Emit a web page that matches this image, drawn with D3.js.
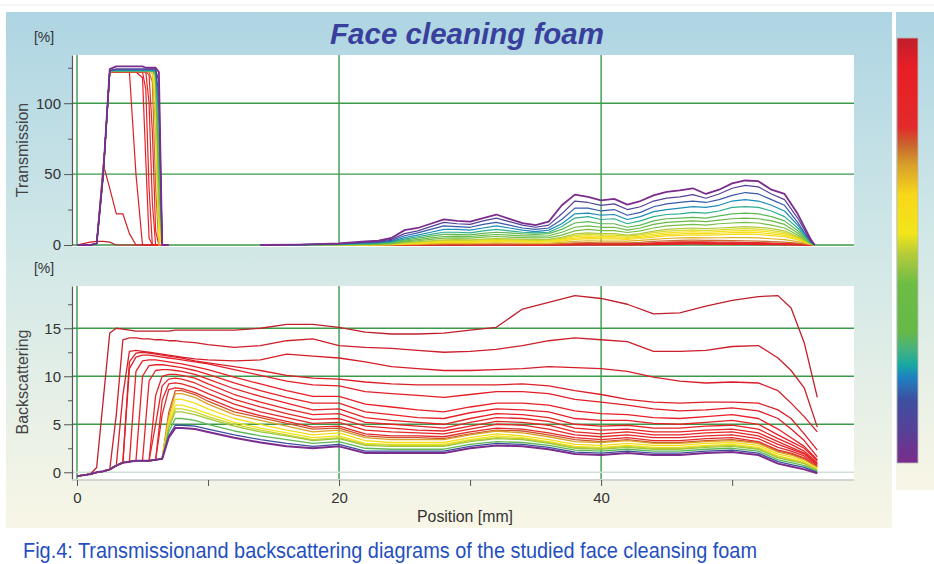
<!DOCTYPE html>
<html lang="en">
  <head>
    <meta charset="UTF-8" />
    <title>Face cleaning foam</title>
    <style>
      body {
        margin: 0;
        background: #fff;
      }
      svg text {
        font-family: 'Liberation Sans', Arial, sans-serif;
      }
    </style>
  </head>
  <body>
    <div id="main"></div>
    <script src="https://cdn.jsdelivr.net/npm/d3@7"></script>

    <script>
      // ---- transmission: positions (mm) ----
      const trPosL = [0, 1, 1.5, 2, 2.5, 3, 3.5, 4, 4.5, 5, 5.25, 5.5, 5.75, 6, 6.25, 6.5, 7]
      const trPosR = [14, 17, 20, 22, 23, 24, 25, 26, 27, 28, 29, 30, 31, 32, 33, 34, 35, 36, 37, 38, 39, 40, 41, 42, 43, 44, 45, 46, 47, 48, 49, 50, 51, 52, 53, 54, 55, 55.5, 56, 56.3]

      // scan time (0 = first scan, 1 = last scan)
      const trScanT = [0, 0.08, 0.16, 0.21, 0.25, 0.3, 0.37, 0.43, 0.49, 0.52, 0.56, 0.59, 0.62, 0.68, 0.74, 0.8, 0.85, 0.88, 0.91, 0.94, 0.97, 1]

      // transmission [%], left peak
      const trL00 = [0, 0, 1, 50, 124, 126, 126, 126, 126, 126, 125, 125, 125, 125, 122, 0, 0]
      const trL01 = [0, 0, 1, 50, 123, 124, 124, 124, 124, 124, 124, 124, 124, 124, 115, 0, 0]
      const trL02 = [0, 0, 1, 50, 123, 124, 124, 124, 124, 124, 124, 124, 124, 124, 105, 0, 0]
      const trL03 = [0, 0, 1, 50, 123, 123, 123, 123, 123, 123, 123, 123, 123, 123, 95, 0, 0]
      const trL04 = [0, 0, 1, 50, 123, 123, 123, 123, 123, 123, 123, 123, 123, 123, 85, 0, 0]
      const trL05 = [0, 0, 1, 50, 123, 123, 123, 123, 123, 123, 123, 123, 123, 122, 70, 0, 0]
      const trL06 = [0, 0, 1, 50, 123, 123, 123, 123, 123, 123, 123, 123, 123, 121, 55, 0, 0]
      const trL07 = [0, 0, 1, 50, 123, 123, 123, 123, 123, 123, 123, 123, 123, 120, 40, 0, 0]
      const trL08 = [0, 0, 1, 50, 123, 123, 123, 123, 123, 123, 123, 123, 123, 118, 25, 0, 0]
      const trL09 = [0, 0, 1, 50, 123, 123, 123, 123, 123, 123, 123, 123, 123, 115, 18, 0, 0]
      const trL10 = [0, 0, 1, 50, 123, 123, 123, 123, 123, 123, 123, 123, 123, 112, 12, 0, 0]
      const trL11 = [0, 0, 1, 50, 123, 123, 123, 123, 123, 123, 123, 123, 123, 106, 8, 0, 0]
      const trL12 = [0, 0, 1, 50, 123, 123, 123, 123, 123, 123, 123, 123, 122, 100, 5, 0, 0]
      const trL13 = [0, 0, 1, 50, 123, 123, 123, 123, 123, 123, 123, 123, 121, 80, 0, 0, 0]
      const trL14 = [0, 0, 1, 50, 122, 122, 122, 122, 122, 122, 122, 122, 115, 40, 0, 0, 0]
      const trL15 = [0, 0, 1, 50, 122, 122, 122, 122, 122, 122, 122, 120, 80, 10, 0, 0, 0]
      const trL16 = [0, 0, 1, 50, 122, 122, 122, 122, 122, 122, 122, 100, 30, 0, 0, 0, 0]
      const trL17 = [0, 0, 1, 50, 122, 122, 122, 122, 122, 122, 110, 40, 0, 0, 0, 0, 0]
      const trL18 = [0, 0, 1, 50, 122, 122, 122, 122, 122, 118, 60, 5, 0, 0, 0, 0, 0]
      const trL19 = [0, 0, 1, 50, 122, 122, 122, 122, 50, 0, 0, 0, 0, 0, 0, 0, 0]
      const trL20 = [0, 0, 1, 57, 40, 22, 22, 8, 0, 0, 0, 0, 0, 0, 0, 0, 0]
      const trL21 = [0, 2, 2.5, 2.5, 2, 0, 0, 0, 0, 0, 0, 0, 0, 0, 0, 0, 0]

      // transmission [%], right region
      const trR00 = [0, 0.3, 1.2, 2.5, 3, 5, 10.5, 12, 15, 18, 17, 16.5, 19, 21.5, 18.5, 15.5, 14, 16.5, 28, 35.5, 34, 31.5, 32.5, 28.5, 31, 35, 37.5, 38.5, 40, 36, 39, 43.5, 45.5, 45, 39, 36, 22, 13, 4, 0]
      const trR01 = [0, 0.2, 1, 2, 2.5, 4, 8, 10, 13, 16, 15, 14.5, 17, 19, 16.5, 14, 12.5, 14, 22, 31, 30, 28, 29, 25, 27, 31, 33, 34, 35.5, 33, 36, 40, 42, 41, 36, 32, 19, 11, 3, 0]
      const trR02 = [0, 0.2, 0.8, 1.6, 2, 3.2, 6.5, 8.5, 11, 13.5, 13, 12.5, 14.5, 16, 14, 12, 11, 12, 18, 26, 26, 24, 25, 21, 23, 27, 29, 30, 31, 30, 32, 35, 37, 36, 32, 28, 16, 9, 2.5, 0]
      const trR03 = [0, 0.15, 0.6, 1.3, 1.7, 2.6, 5.2, 7, 9, 11, 11, 10.5, 12, 13.5, 12, 10.5, 9.5, 10.5, 15, 22, 22.5, 21, 21.5, 18, 20, 23.5, 25, 26, 27, 26.5, 28, 31, 32, 31, 28, 24, 14, 8, 2, 0]
      const trR04 = [0, 0.1, 0.5, 1, 1.4, 2.2, 4.2, 5.8, 7.5, 9, 9, 8.5, 10, 11, 10, 9, 8.5, 9, 13, 19, 20, 18, 18.5, 15, 17, 20, 21.5, 22, 23, 22.5, 24, 26.5, 27, 26.5, 24, 20, 12, 7, 1.8, 0]
      const trR05 = [0, 0.1, 0.4, 0.8, 1.1, 1.8, 3.5, 4.8, 6.2, 7.5, 7.5, 7.2, 8.2, 9, 8.5, 7.8, 7.5, 8, 11, 15.5, 16.5, 15, 15, 12.5, 14, 17, 18.5, 19, 19.5, 19, 20.5, 22, 22.5, 22, 20, 17, 10, 6, 1.5, 0]
      const trR06 = [0, 0.1, 0.3, 0.6, 0.8, 1.4, 2.8, 3.8, 5, 6, 6.2, 6, 6.8, 7.4, 7, 6.5, 6.2, 6.5, 9, 12.5, 13.5, 12.5, 12.5, 10.5, 12, 14.5, 16, 16.5, 17, 16.5, 17.5, 18.5, 19, 18.5, 17, 14.5, 8.5, 5, 1.2, 0]
      const trR07 = [0, 0, 0.2, 0.5, 0.6, 1, 2.2, 3, 4, 4.8, 5, 4.8, 5.5, 6, 5.6, 5.2, 5, 5.2, 7, 10, 11, 10.2, 10.2, 8.8, 10, 12, 13.5, 14, 14.5, 14, 15, 15.5, 16, 15.5, 14, 12, 7, 4, 1, 0]
      const trR08 = [0, 0, 0.1, 0.3, 0.4, 0.7, 1.6, 2.2, 3, 3.6, 3.8, 3.6, 4.2, 4.6, 4.3, 4, 3.8, 4, 5.4, 7.8, 8.6, 8, 8, 7, 8, 9.8, 11, 11.5, 12, 11.5, 12, 12.5, 13, 12.5, 11.5, 10, 6, 3.4, 0.8, 0]
      const trR09 = [0, 0, 0.05, 0.25, 0.35, 0.6, 1.3, 1.9, 2.6, 3.1, 3.3, 3.1, 3.6, 4, 3.7, 3.5, 3.3, 3.5, 4.7, 6.8, 7.5, 7, 7, 6.2, 7.1, 8.7, 9.8, 10.2, 10.7, 10.2, 10.7, 11.2, 11.6, 11.2, 10.2, 8.9, 5.4, 3.1, 0.7, 0]
      const trR10 = [0, 0, 0, 0.2, 0.3, 0.5, 1.1, 1.6, 2.2, 2.6, 2.8, 2.6, 3, 3.4, 3.2, 3, 2.8, 3, 4, 5.8, 6.4, 6, 6, 5.4, 6.2, 7.6, 8.6, 9, 9.5, 9, 9.5, 10, 10.2, 10, 9, 7.8, 4.8, 2.8, 0.6, 0]
      const trR11 = [0, 0, 0, 0.15, 0.25, 0.4, 0.9, 1.3, 1.8, 2.2, 2.4, 2.2, 2.5, 2.9, 2.7, 2.5, 2.4, 2.5, 3.4, 4.9, 5.4, 5.1, 5.1, 4.7, 5.4, 6.6, 7.5, 7.9, 8.3, 8, 8.3, 8.7, 8.9, 8.7, 7.8, 6.8, 4.2, 2.5, 0.55, 0]
      const trR12 = [0, 0, 0, 0.1, 0.2, 0.3, 0.7, 1, 1.5, 1.8, 2, 1.8, 2.1, 2.4, 2.3, 2.1, 2, 2.1, 2.8, 4, 4.5, 4.3, 4.3, 4, 4.6, 5.6, 6.4, 6.8, 7.2, 7, 7.2, 7.5, 7.6, 7.4, 6.6, 5.8, 3.6, 2.2, 0.5, 0]
      const trR13 = [0, 0, 0, 0, 0.1, 0.2, 0.4, 0.6, 0.9, 1.1, 1.2, 1.1, 1.3, 1.5, 1.4, 1.3, 1.2, 1.3, 1.8, 2.6, 3, 2.8, 2.8, 2.7, 3.2, 4, 4.6, 5, 5.2, 5, 5.1, 5.2, 5.2, 5, 4.4, 3.8, 2.4, 1.5, 0.4, 0]
      const trR14 = [0, 0, 0, 0, 0, 0.1, 0.2, 0.3, 0.5, 0.6, 0.7, 0.6, 0.7, 0.8, 0.8, 0.7, 0.7, 0.7, 1, 1.5, 1.7, 1.6, 1.6, 1.6, 1.9, 2.5, 3, 3.3, 3.4, 3.3, 3.2, 3.1, 3, 2.8, 2.4, 2, 1.3, 0.8, 0.2, 0]
      const trR15 = [0, 0, 0, 0, 0, 0, 0.1, 0.2, 0.3, 0.4, 0.4, 0.4, 0.4, 0.5, 0.5, 0.4, 0.4, 0.4, 0.6, 0.9, 1, 1, 1, 1, 1.2, 1.6, 2, 2.2, 2.3, 2.2, 2.1, 2, 1.9, 1.7, 1.4, 1.2, 0.8, 0.5, 0.1, 0]
      const trR16 = [0, 0, 0, 0, 0, 0, 0, 0.1, 0.2, 0.2, 0.2, 0.2, 0.2, 0.3, 0.3, 0.2, 0.2, 0.2, 0.3, 0.5, 0.6, 0.6, 0.6, 0.6, 0.8, 1.1, 1.5, 1.7, 1.8, 1.7, 1.6, 1.5, 1.4, 1.2, 1, 0.8, 0.5, 0.3, 0, 0]
      const trR17 = [0, 0, 0, 0, 0, 0, 0, 0, 0.1, 0.1, 0.1, 0.1, 0.1, 0.2, 0.2, 0.1, 0.1, 0.1, 0.2, 0.3, 0.4, 0.4, 0.4, 0.4, 0.5, 0.8, 1.1, 1.3, 1.4, 1.3, 1.2, 1.1, 1, 0.9, 0.7, 0.5, 0.3, 0.2, 0, 0]
      const trR18 = [0, 0, 0, 0, 0, 0, 0, 0, 0, 0, 0, 0, 0, 0.1, 0.1, 0, 0, 0, 0.1, 0.2, 0.2, 0.2, 0.2, 0.2, 0.3, 0.5, 0.8, 1, 1.1, 1, 0.9, 0.8, 0.7, 0.6, 0.5, 0.3, 0.2, 0.1, 0, 0]
      const trR19 = [0, 0, 0, 0, 0, 0, 0, 0, 0, 0, 0, 0, 0, 0, 0, 0, 0, 0, 0, 0.1, 0.1, 0.1, 0.1, 0.1, 0.2, 0.3, 0.5, 0.6, 0.7, 0.6, 0.6, 0.5, 0.4, 0.3, 0.3, 0.2, 0.1, 0, 0, 0]

      // ---- backscattering: positions (mm) ----
      const bsPos = [0, 1, 1.5, 2, 2.5, 3, 3.5, 4, 4.5, 5, 5.5, 6, 6.5, 7, 7.5, 8, 9, 10, 12, 14, 16, 18, 20, 22, 24, 26, 28, 30, 32, 34, 36, 38, 40, 42, 44, 46, 48, 50, 52, 53.5, 54.5, 55.5, 56.5]
      const bsScanT = [0, 0.15, 0.3, 0.47, 0.51, 0.55, 0.6, 0.7, 0.76, 0.8, 0.82, 0.84, 0.86, 0.88, 0.9, 0.92, 0.94, 0.95, 0.96, 0.98, 1]

      // backscattering [%]
      const bs00 = [-0.4, -0.2, 0, 0.1, 0.3, 0.7, 1, 1.1, 1.2, 1.2, 1.2, 1.3, 1.4, 3.6, 4.6, 4.6, 4.5, 4.2, 3.6, 3.1, 2.7, 2.5, 2.7, 2, 2, 2, 2, 2.5, 2.8, 2.7, 2.4, 1.9, 1.8, 2, 1.8, 1.8, 2, 2.1, 1.8, 0.9, 0.6, 0.3, -0.1]
      const bs01 = [-0.4, -0.2, 0, 0.1, 0.3, 0.7, 1, 1.1, 1.2, 1.2, 1.2, 1.3, 1.4, 3.8, 4.9, 4.9, 4.8, 4.5, 3.9, 3.4, 3, 2.7, 2.9, 2.2, 2.2, 2.2, 2.2, 2.7, 3, 2.9, 2.6, 2.1, 2, 2.2, 2, 2, 2.2, 2.3, 2, 1.1, 0.8, 0.5, 0]
      const bs02 = [-0.4, -0.2, 0, 0.1, 0.3, 0.7, 1, 1.1, 1.2, 1.2, 1.2, 1.3, 1.4, 4.2, 5.6, 5.6, 5.4, 5, 4.3, 3.8, 3.4, 3, 3.2, 2.5, 2.4, 2.4, 2.4, 2.9, 3.2, 3.1, 2.8, 2.3, 2.2, 2.4, 2.2, 2.2, 2.4, 2.5, 2.2, 1.3, 1, 0.7, 0.1]
      const bs03 = [-0.4, -0.2, 0, 0.1, 0.3, 0.7, 1, 1.1, 1.2, 1.2, 1.2, 1.3, 1.4, 4.6, 6.3, 6.3, 6, 5.6, 4.8, 4.2, 3.8, 3.3, 3.5, 2.8, 2.7, 2.7, 2.7, 3.2, 3.5, 3.4, 3, 2.5, 2.4, 2.6, 2.4, 2.4, 2.6, 2.7, 2.4, 1.5, 1.2, 0.9, 0.2]
      const bs04 = [-0.4, -0.2, 0, 0.1, 0.3, 0.7, 1, 1.1, 1.2, 1.2, 1.2, 1.3, 1.4, 4.8, 6.6, 6.6, 6.3, 5.8, 5, 4.4, 3.9, 3.4, 3.6, 2.9, 2.8, 2.8, 2.8, 3.3, 3.6, 3.5, 3.1, 2.6, 2.5, 2.7, 2.5, 2.5, 2.7, 2.8, 2.5, 1.6, 1.3, 0.95, 0.25]
      const bs05 = [-0.4, -0.2, 0, 0.1, 0.3, 0.7, 1, 1.1, 1.2, 1.2, 1.2, 1.3, 1.4, 5, 7, 7, 6.6, 6.1, 5.2, 4.6, 4.1, 3.6, 3.8, 3, 2.9, 2.9, 2.9, 3.4, 3.8, 3.6, 3.2, 2.7, 2.6, 2.8, 2.6, 2.6, 2.8, 2.9, 2.6, 1.7, 1.4, 1, 0.3]
      const bs06 = [-0.4, -0.2, 0, 0.1, 0.3, 0.7, 1, 1.1, 1.2, 1.2, 1.2, 1.3, 1.4, 5.4, 7.6, 7.6, 7.2, 6.6, 5.6, 5, 4.4, 3.9, 4.1, 3.3, 3.1, 3.1, 3.1, 3.6, 4, 3.8, 3.4, 2.9, 2.8, 3, 2.8, 2.8, 3, 3.1, 2.8, 1.9, 1.6, 1.1, 0.4]
      const bs07 = [-0.4, -0.2, 0, 0.1, 0.3, 0.7, 1, 1.1, 1.2, 1.2, 1.2, 1.3, 1.4, 5.8, 8.2, 8.2, 7.8, 7.1, 6, 5.4, 4.8, 4.2, 4.4, 3.6, 3.4, 3.4, 3.4, 3.9, 4.3, 4.1, 3.7, 3.2, 3.1, 3.3, 3, 3, 3.2, 3.3, 3, 2.1, 1.8, 1.3, 0.5]
      const bs08 = [-0.4, -0.2, 0, 0.1, 0.3, 0.7, 1, 1.1, 1.2, 1.2, 1.2, 1.3, 1.4, 6.2, 8.5, 8.5, 8.1, 7.4, 6.3, 5.7, 5.1, 4.5, 4.6, 3.8, 3.6, 3.6, 3.5, 4, 4.4, 4.3, 3.9, 3.4, 3.2, 3.4, 3.1, 3.1, 3.3, 3.4, 3.1, 2.2, 1.9, 1.4, 0.55]
      const bs09 = [-0.4, -0.2, 0, 0.1, 0.3, 0.7, 1, 1.1, 1.2, 1.2, 1.2, 1.3, 6, 8.6, 8.8, 8.7, 8.3, 7.7, 6.6, 5.9, 5.3, 4.7, 4.8, 4, 3.8, 3.8, 3.7, 4.2, 4.6, 4.5, 4.1, 3.6, 3.4, 3.6, 3.3, 3.3, 3.5, 3.6, 3.2, 2.3, 2, 1.5, 0.6]
      const bs10 = [-0.4, -0.2, 0, 0.1, 0.3, 0.7, 1, 1.1, 1.2, 1.2, 1.2, 1.3, 7.5, 9.2, 9.3, 9.2, 8.8, 8.2, 7.1, 6.3, 5.7, 5.1, 5.2, 4.4, 4.2, 4.1, 4, 4.5, 5, 4.9, 4.5, 3.9, 3.7, 3.9, 3.6, 3.6, 3.8, 3.9, 3.5, 2.6, 2.2, 1.7, 0.7]
      const bs11 = [-0.4, -0.2, 0, 0.1, 0.3, 0.7, 1, 1.1, 1.2, 1.2, 1.2, 5, 9, 9.7, 9.8, 9.7, 9.3, 8.7, 7.6, 6.8, 6.1, 5.5, 5.6, 4.8, 4.6, 4.4, 4.3, 4.8, 5.3, 5.2, 4.9, 4.2, 4, 4.2, 3.9, 3.9, 4.1, 4.2, 3.8, 2.9, 2.4, 1.9, 0.8]
      const bs12 = [-0.4, -0.2, 0, 0.1, 0.3, 0.7, 1, 1.1, 1.2, 1.2, 1.2, 8, 10, 10.2, 10.2, 10.1, 9.8, 9.2, 8.1, 7.3, 6.6, 6, 6.1, 5.2, 5, 4.8, 4.6, 5.2, 5.7, 5.6, 5.3, 4.6, 4.4, 4.5, 4.2, 4.2, 4.4, 4.5, 4.1, 3.2, 2.6, 2, 0.9]
      const bs13 = [-0.4, -0.2, 0, 0.1, 0.3, 0.7, 1, 1.1, 1.2, 1.2, 9.5, 10.6, 10.7, 10.7, 10.6, 10.5, 10.2, 9.7, 8.7, 7.9, 7.2, 6.5, 6.6, 5.7, 5.4, 5.2, 5, 5.6, 6.1, 6, 5.7, 5, 4.8, 4.9, 4.6, 4.6, 4.8, 4.9, 4.5, 3.5, 2.9, 2.2, 1]
      const bs14 = [-0.4, -0.2, 0, 0.1, 0.3, 0.7, 1, 1.1, 1.2, 10, 11.1, 11.2, 11.2, 11.1, 11, 10.9, 10.6, 10.2, 9.3, 8.5, 7.8, 7.2, 7.2, 6.3, 6, 5.7, 5.6, 6.2, 6.6, 6.5, 6.3, 5.6, 5.4, 5.4, 5.1, 5, 5.2, 5.4, 5, 3.9, 3.2, 2.5, 1.2]
      const bs15 = [-0.4, -0.2, 0, 0.1, 0.3, 0.7, 1, 1.1, 10.5, 11.6, 11.7, 11.7, 11.6, 11.5, 11.4, 11.3, 11, 10.7, 9.9, 9.2, 8.5, 7.9, 7.9, 7.1, 6.8, 6.5, 6.3, 6.8, 7.2, 7.2, 7, 6.4, 6.1, 6, 5.7, 5.6, 5.8, 6, 5.6, 4.5, 3.6, 2.7, 1.3]
      const bs16 = [-0.4, -0.2, 0, 0.1, 0.3, 0.7, 1, 10.8, 12, 12.2, 12.2, 12.1, 12, 11.9, 11.8, 11.7, 11.5, 11.3, 10.7, 10.1, 9.5, 9.1, 9, 8.4, 8.2, 8, 7.8, 8.1, 8.4, 8.4, 8.2, 7.6, 7.3, 7, 6.6, 6.4, 6.5, 6.7, 6.4, 5.6, 4.5, 3.3, 1.6]
      const bs17 = [-0.4, -0.2, 0, 0.1, 0.3, 0.7, 1, 11.5, 12.4, 12.5, 12.4, 12.3, 12.2, 12.1, 12, 11.9, 11.6, 11.4, 11, 10.6, 10.1, 9.8, 9.7, 9.4, 9.2, 9.1, 9.1, 9.1, 9.1, 9.2, 9, 8.5, 8.1, 7.6, 7.3, 7.2, 7.3, 7.3, 7.2, 6.5, 5.6, 4, 2.3]
      const bs18 = [-0.4, -0.2, 0, 0.1, 0.3, 0.7, 8, 12.6, 12.7, 12.6, 12.5, 12.4, 12.3, 12.2, 12.1, 12, 11.8, 11.7, 11.6, 11.7, 12.3, 12.1, 11.9, 11.5, 11, 10.8, 10.6, 10.6, 10.7, 10.8, 11, 10.9, 10.8, 10.5, 9.9, 9.5, 9.3, 9.4, 9.3, 8.5, 7.2, 5.8, 4.2]
      const bs19 = [-0.4, -0.2, 0, 0.1, 0.3, 6, 13.8, 14, 14, 13.9, 13.9, 13.8, 13.8, 13.7, 13.7, 13.6, 13.5, 13.3, 13, 13.2, 13.7, 13.9, 13.2, 13, 12.9, 12.7, 12.5, 12.6, 12.8, 13.2, 13.7, 14, 13.8, 13.6, 12.6, 12.6, 12.7, 13.1, 13.2, 11.9, 10.6, 8.8, 4.7]
      const bs20 = [-0.4, -0.2, 0.5, 7.5, 14.5, 15, 14.9, 14.8, 14.7, 14.7, 14.7, 14.7, 14.7, 14.7, 14.8, 14.8, 14.8, 14.8, 14.8, 15, 15.4, 15.4, 15.1, 14.6, 14.4, 14.4, 14.5, 14.8, 15.1, 17, 17.7, 18.4, 18.1, 17.5, 16.5, 16.6, 17.3, 17.9, 18.3, 18.4, 17.1, 13.5, 7.8]

      // ---- axes / colour bar ----
      const xLabelTicks = [0, 20, 40]
      const xAllTicks = [0, 10, 20, 30, 40, 50]
      const trMajor = [0, 50, 100]
      const trMinor = [25, 75, 125]
      const bsMajor = [0, 5, 10, 15]
      const bsMinor = [2.5, 7.5, 12.5, 17.5]
      const barStops = [0, 0.07, 0.15, 0.2, 0.23, 0.27, 0.31, 0.42, 0.49, 0.54, 0.63, 0.7, 0.75, 0.79, 0.93, 1]
      const barColors = ['#7b2c8c', '#5a3f96', '#3d50a0', '#1f80c2', '#17a7a2', '#48b37c', '#66b947', '#6cbd46', '#b3cb3a', '#f1e51a', '#f8d81a', '#d8a12a', '#c9632d', '#e22b2a', '#e81e26', '#bf1f2b']

      const trLeft = [trL00, trL01, trL02, trL03, trL04, trL05, trL06, trL07, trL08, trL09, trL10, trL11, trL12, trL13, trL14, trL15, trL16, trL17, trL18, trL19, trL20, trL21]
      const trRight = [trR00, trR01, trR02, trR03, trR04, trR05, trR06, trR07, trR08, trR09, trR10, trR11, trR12, trR13, trR14, trR15, trR16, trR17, trR18, trR19, null, null]
      const bsScans = [bs00, bs01, bs02, bs03, bs04, bs05, bs06, bs07, bs08, bs09, bs10, bs11, bs12, bs13, bs14, bs15, bs16, bs17, bs18, bs19, bs20]

      const [width, height] = [934, 564]
      const gridColor = '#3a9a48'
      const axisColor = '#555'

      const svg = d3
        .select('#main')
        .append('svg')
        .attr('width', width)
        .attr('height', height)
        .attr('viewBox', `0 0 ${width} ${height}`)

      const defs = svg.append('defs')
      const bg = defs
        .append('linearGradient')
        .attr('id', 'bg')
        .attr('x1', 0).attr('y1', 0).attr('x2', 0).attr('y2', 1)
      bg.selectAll('stop')
        .data([['0%', '#aed5e3'], ['45%', '#d0e7e7'], ['100%', '#f8f6e6']])
        .join('stop')
        .attr('offset', d => d[0])
        .attr('stop-color', d => d[1])

      const bar = defs
        .append('linearGradient')
        .attr('id', 'bar')
        .attr('x1', 0).attr('y1', 1).attr('x2', 0).attr('y2', 0)
      bar.selectAll('stop')
        .data(barStops)
        .join('stop')
        .attr('offset', d => d * 100 + '%')
        .attr('stop-color', (_, i) => barColors[i])

      const color = d3.scaleLinear().domain(barStops).range(barColors).interpolate(d3.interpolateRgb)

      // panels
      svg.append('line').attr('x1', 0).attr('x2', width).attr('y1', 5).attr('y2', 5).attr('stroke', '#ececec')
      svg.append('rect').attr('x', 6).attr('y', 12).attr('width', 886).attr('height', 516).attr('fill', 'url(#bg)')
      svg.append('rect').attr('x', 896).attr('y', 12).attr('width', 38).attr('height', 478).attr('fill', 'url(#bg)')

      // colour bar
      svg.append('rect')
        .attr('x', 897).attr('y', 38).attr('width', 21).attr('height', 425)
        .attr('fill', 'url(#bar)')
        .attr('stroke', '#bbb').attr('stroke-width', 0.8)

      // scales
      const x = d3.scaleLinear().domain([0, 59.3]).range([77, 854])
      const yT = d3.scaleLinear().domain([0, 134]).range([245, 55])
      const yB = d3.scaleLinear().domain([-0.7, 19.4]).range([479, 286])

      // plot areas
      svg.append('rect').attr('x', 72).attr('y', 55).attr('width', 782).attr('height', 192).attr('fill', '#fff')
      svg.append('rect').attr('x', 72).attr('y', 286).attr('width', 782).attr('height', 193).attr('fill', '#fff')

      // grid
      const grid = svg.append('g').attr('stroke', gridColor).attr('stroke-width', 1.4)
      grid.selectAll('.vt').data(xLabelTicks).join('line')
        .attr('class', 'vt')
        .attr('x1', d => x(d)).attr('x2', d => x(d)).attr('y1', 55).attr('y2', yT(0))
      grid.selectAll('.ht').data(trMajor).join('line')
        .attr('class', 'ht')
        .attr('x1', 72).attr('x2', 854).attr('y1', d => yT(d)).attr('y2', d => yT(d))
      grid.selectAll('.vb').data(xLabelTicks).join('line')
        .attr('class', 'vb')
        .attr('x1', d => x(d)).attr('x2', d => x(d)).attr('y1', 286).attr('y2', 479)
      grid.selectAll('.hb').data(bsMajor).join('line')
        .attr('class', 'hb')
        .attr('x1', 72).attr('x2', 854).attr('y1', d => yB(d)).attr('y2', d => yB(d))
        .attr('stroke', d => (d === 0 ? '#cfe0d6' : gridColor))

      // transmission curves
      const trScans = trLeft.map((l, i) => ({ t: trScanT[i], left: l, right: trRight[i] }))
      const lineTL = d3.line().x((d, i) => x(trPosL[i])).y(d => yT(d))
      const lineTR = d3.line().x((d, i) => x(trPosR[i])).y(d => yT(d))
      const topG = svg.append('g').attr('fill', 'none').attr('stroke-linejoin', 'round')
      const topScan = topG.selectAll('g').data(trScans.slice().reverse()).join('g')
        .attr('stroke', d => color(d.t))
        .attr('stroke-width', d => (d.t === 0 ? 1.8 : 1.2))
      topScan.append('path').attr('d', d => lineTL(d.left))
      topScan.filter(d => d.right).append('path').attr('d', d => lineTR(d.right))

      // backscattering curves
      const lineB = d3.line().x((d, i) => x(bsPos[i])).y(d => yB(d))
      svg.append('g').attr('fill', 'none').attr('stroke-linejoin', 'round')
        .selectAll('path')
        .data(bsScans.map((v, i) => ({ t: bsScanT[i], v })).reverse())
        .join('path')
        .attr('stroke', d => color(d.t))
        .attr('stroke-width', d => (d.t === 0 ? 2 : 1.3))
        .attr('d', d => lineB(d.v))

      // axes
      const styleAxis = g => {
        g.selectAll('.domain').attr('stroke', axisColor).attr('stroke-width', 1.2)
        g.selectAll('.tick line').attr('stroke', axisColor)
        g.selectAll('text').attr('fill', '#333').style('font-size', '15px')
      }
      svg.append('g').attr('transform', 'translate(72,0)')
        .call(d3.axisLeft(yT).tickValues(trMajor).tickSize(8).tickSizeOuter(0).tickPadding(3))
        .call(styleAxis)
      svg.append('g').attr('transform', 'translate(72,0)')
        .call(d3.axisLeft(yT).tickValues(trMinor).tickSize(4).tickFormat(''))
        .call(g => g.select('.domain').remove())
        .call(styleAxis)
      svg.append('g').attr('transform', 'translate(72,0)')
        .call(d3.axisLeft(yB).tickValues(bsMajor).tickSize(8).tickSizeOuter(0).tickPadding(3))
        .call(styleAxis)
      svg.append('g').attr('transform', 'translate(72,0)')
        .call(d3.axisLeft(yB).tickValues(bsMinor).tickSize(4).tickFormat(''))
        .call(g => g.select('.domain').remove())
        .call(styleAxis)

      svg.append('line').attr('x1', 72).attr('x2', 854).attr('y1', 480).attr('y2', 480)
        .attr('stroke', '#c8c8c8').attr('stroke-width', 1.5)
      svg.append('g').attr('transform', 'translate(0,480)')
        .call(d3.axisBottom(x).tickValues(xAllTicks).tickSize(6).tickPadding(6)
          .tickFormat(d => (xLabelTicks.includes(d) ? d : '')))
        .call(g => g.select('.domain').remove())
        .call(styleAxis)

      // texts
      svg.append('text')
        .attr('x', 467).attr('y', 44)
        .attr('text-anchor', 'middle')
        .attr('fill', '#393f9c')
        .style('font-size', '29.5px').style('font-weight', 'bold').style('font-style', 'italic')
        .text('Face cleaning foam')

      svg.selectAll('.unit').data([42, 273]).join('text')
        .attr('class', 'unit')
        .attr('x', 44).attr('y', d => d)
        .attr('text-anchor', 'middle').attr('fill', '#333')
        .style('font-size', '14px')
        .text('[%]')

      svg.selectAll('.ylab').data([['Transmission', 150], ['Backscattering', 382]]).join('text')
        .attr('class', 'ylab')
        .attr('transform', d => `translate(22,${d[1]}) rotate(-90)`)
        .attr('text-anchor', 'middle').attr('dy', '0.35em')
        .attr('fill', '#444')
        .style('font-size', '16px')
        .text(d => d[0])

      svg.append('text')
        .attr('x', 465).attr('y', 522)
        .attr('text-anchor', 'middle').attr('fill', '#333')
        .attr('textLength', 96).attr('lengthAdjust', 'spacingAndGlyphs')
        .style('font-size', '16px')
        .text('Position [mm]')

      svg.append('text')
        .attr('x', 23).attr('y', 558)
        .attr('fill', '#1f4fc0')
        .attr('textLength', 734).attr('lengthAdjust', 'spacingAndGlyphs')
        .style('font-size', '22px')
        .text('Fig.4: Transmissionand backscattering diagrams of the studied face cleansing foam')
    </script>
  </body>
</html>
